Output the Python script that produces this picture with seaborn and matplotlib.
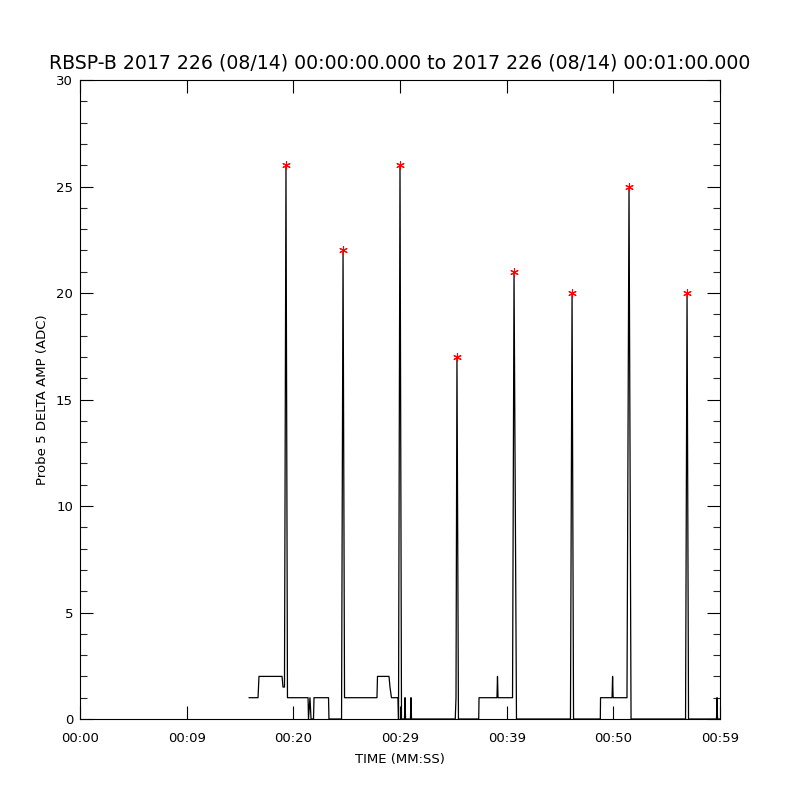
import pandas as pd
import matplotlib
matplotlib.use("Agg")
import matplotlib.pyplot as plt
import seaborn as sns

# Probe 5 delta amplitude trace (seconds after 00:00:00, ADC counts)
times = [15.84, 16.69, 16.78, 18.94, 19.03, 19.17, 19.31, 19.45, 21.38, 21.42,
         21.56, 21.66, 21.89, 21.94, 23.30, 23.34, 24.52, 24.66, 24.80, 27.84,
         27.89, 28.97, 29.06, 29.20, 29.81, 29.86, 30.00, 30.14, 30.42, 30.47,
         30.52, 30.98, 31.03, 31.08, 35.18, 35.25, 35.34, 35.48, 37.38, 37.41,
         39.09, 39.14, 39.19, 40.55, 40.69, 40.92, 45.98, 46.13, 46.27, 48.78,
         48.80, 49.88, 49.93, 49.98, 51.28, 51.47, 51.66, 56.77, 56.91, 57.05,
         59.67, 59.72, 59.77, 60.00]
values = [1, 1, 2, 2, 1.5, 1.5, 26, 1, 1, 0,
          1, 0, 0, 1, 1, 0, 0, 22, 1, 1,
          2, 2, 1.5, 1, 1, 0, 26, 0, 0, 1,
          0, 0, 1, 0, 0, 1, 17, 0, 0, 1,
          1, 2, 1, 1, 21, 0, 0, 20, 0, 0,
          1, 1, 2, 1, 1, 25, 0, 0, 20, 0,
          0, 1, 0, 0]

# Peak markers
peak_times = [19.31, 24.66, 30.00, 35.34, 40.69, 46.13, 51.47, 56.91]
peak_values = [26, 22, 26, 17, 21, 20, 25, 20]

xtick_pos = [0, 10, 20, 30, 40, 50, 60]
xtick_labels = ["00:00", "00:09", "00:20", "00:29", "00:39", "00:50", "00:59"]

title = "RBSP-B 2017 226 (08/14) 00:00:00.000 to 2017 226 (08/14) 00:01:00.000"

sns.set_style("ticks")
plt.rcParams['font.family'] = ['DejaVu Sans']
plt.rcParams['text.color'] = 'black'
plt.rcParams['axes.labelcolor'] = 'black'

df = pd.DataFrame({"t": times, "amp": values})
peaks = pd.DataFrame({"t": peak_times, "amp": peak_values})

fig = plt.figure(figsize=(8, 8), dpi=100)
ax = fig.add_axes([0.1, 0.10125, 0.8, 0.79875])

sns.lineplot(data=df, x="t", y="amp", ax=ax, sort=False, estimator=None,
             color="black", linewidth=0.9)
sns.scatterplot(data=peaks, x="t", y="amp", ax=ax, marker=(6, 2, 0),
                color="red", s=30, linewidth=0.8, edgecolor="red", zorder=5)

ax.set_xlim(0, 60)
ax.set_ylim(0, 30)
ax.set_xticks(xtick_pos)
ax.set_xticklabels(xtick_labels)
ax.set_yticks(range(0, 31, 5))
ax.set_yticks(range(0, 31, 1), minor=True)

for side in ["top", "right", "left", "bottom"]:
    ax.spines[side].set_visible(True)
    ax.spines[side].set_color("black")
    ax.spines[side].set_linewidth(0.8)

ax.tick_params(axis="both", which="major", direction="in", length=9.5,
               width=0.8, colors="black", labelsize=9.5,
               top=True, right=True)
ax.tick_params(axis="y", which="minor", direction="in", length=5,
               width=0.8, left=True, right=True)
ax.tick_params(axis="x", which="major", pad=9)
ax.tick_params(axis="y", which="major", pad=5)

ax.set_title(title, fontsize=13.6, pad=8, color="black")
ax.set_xlabel("TIME (MM:SS)", fontsize=9.5, labelpad=6)
ax.set_ylabel("Probe 5 DELTA AMP (ADC)", fontsize=9.5, labelpad=5)

fig.savefig("out.png", dpi=100, facecolor="white")
